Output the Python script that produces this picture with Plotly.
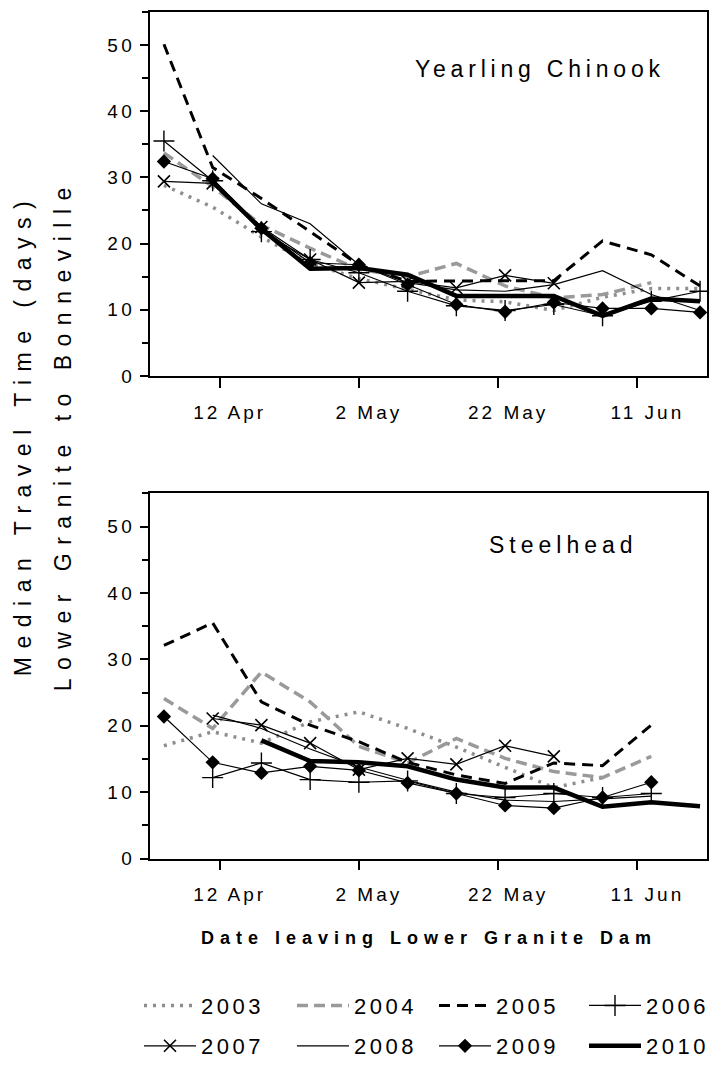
import plotly.graph_objects as go

# Weekly release dates (common calendar year used for overlaying years)
release_dates = ["2010-04-04", "2010-04-11", "2010-04-18", "2010-04-25",
                 "2010-05-02", "2010-05-09", "2010-05-16", "2010-05-23",
                 "2010-05-30", "2010-06-06", "2010-06-13", "2010-06-20"]

years = [2003, 2004, 2005, 2006, 2007, 2008, 2009, 2010]

# Median travel time (days), Lower Granite to Bonneville — yearling Chinook
chinook_2003 = [28.8, 25.5, 21.0, 17.0, 14.7, 13.1, 11.5, 11.2, 9.9, 11.9, 13.2, 13.2]
chinook_2004 = [33.7, 28.6, 22.8, 19.3, 16.1, 15.0, 17.0, 13.6, 11.8, 12.3, 14.1, None]
chinook_2005 = [50.1, 31.5, 26.8, 21.8, 16.8, 14.3, 14.4, 14.4, 14.4, 20.4, 18.3, 13.6]
chinook_2006 = [35.5, 29.5, 21.8, 17.6, 15.6, 12.8, 10.6, 9.9, 10.8, 9.1, 11.3, 12.8]
chinook_2007 = [29.4, 29.1, 22.5, 17.6, 14.1, 14.3, 13.3, 15.2, 14.0, None, None, None]
chinook_2008 = [None, 33.3, 26.0, 23.0, 16.8, 14.1, 13.0, 12.8, 13.8, 15.9, 12.3, 9.9]
chinook_2009 = [32.4, 29.8, 22.3, 17.1, 16.8, 13.8, 10.8, 9.7, 11.1, 10.2, 10.2, 9.6]
chinook_2010 = [None, 29.3, 22.2, 16.2, 16.3, 15.3, 12.1, 12.1, 12.1, 9.1, 11.7, 11.3]

# Median travel time (days), Lower Granite to Bonneville — steelhead
steelhead_2003 = [17.0, 19.1, 17.4, 20.6, 22.1, 19.6, 16.8, 13.8, 10.7, 12.2, None, None]
steelhead_2004 = [24.1, 19.6, 28.1, 23.6, 16.9, 14.4, 18.1, 15.1, 13.1, 12.2, 15.4, None]
steelhead_2005 = [32.1, 35.5, 23.6, 20.1, 17.6, 14.5, 12.6, 11.3, 14.4, 14.0, 20.1, None]
steelhead_2006 = [None, 12.2, 14.4, 11.9, 11.5, 11.7, 9.8, 9.2, 9.8, 9.2, 9.8, None]
steelhead_2007 = [None, 21.1, 20.1, 17.4, 13.4, 15.1, 14.2, 17.0, 15.4, None, None, None]
steelhead_2008 = [None, 21.6, 19.6, 16.5, 13.8, 11.8, 10.0, 8.8, 8.6, 9.0, 9.4, None]
steelhead_2009 = [21.4, 14.5, 12.9, 13.9, 13.3, 11.4, 9.8, 8.0, 7.6, 9.2, 11.5, None]
steelhead_2010 = [None, None, 17.8, 14.7, 14.5, 13.9, 11.9, 10.7, 10.7, 7.8, 8.5, 7.9]

chinook = [chinook_2003, chinook_2004, chinook_2005, chinook_2006,
           chinook_2007, chinook_2008, chinook_2009, chinook_2010]
steelhead = [steelhead_2003, steelhead_2004, steelhead_2005, steelhead_2006,
             steelhead_2007, steelhead_2008, steelhead_2009, steelhead_2010]

tick_dates = ["2010-04-12", "2010-05-02", "2010-05-22", "2010-06-11"]
tick_labels = ["12 Apr", "2 May", "22 May", "11 Jun"]
y_ticks = [0, 10, 20, 30, 40, 50]

FONT = "Liberation Sans, Arial, sans-serif"


def spaced(text, px):
    return f'<span style="letter-spacing:{px}px">{text}</span>'


# Line / marker style for each year
styles = {
    2003: dict(mode="lines", line=dict(color="#8e8e8e", width=3.5, dash="3px,6px")),
    2004: dict(mode="lines", line=dict(color="#9a9a9a", width=3.5, dash="11px,6px")),
    2005: dict(mode="lines", line=dict(color="black", width=3, dash="11px,7px")),
    2006: dict(mode="lines+markers", line=dict(color="black", width=1.2),
               marker=dict(symbol="cross-thin", size=15, line=dict(color="black", width=1.4))),
    2007: dict(mode="lines+markers", line=dict(color="black", width=1.2),
               marker=dict(symbol="x-thin", size=12, line=dict(color="black", width=1.6))),
    2008: dict(mode="lines", line=dict(color="black", width=1.2)),
    2009: dict(mode="lines+markers", line=dict(color="black", width=1.2),
               marker=dict(symbol="diamond", size=11, color="black")),
    2010: dict(mode="lines", line=dict(color="black", width=4.5)),
}

W, H = 715, 1067

# Legend key placement: two rows of four, one small legend per year
legend_cols = [139, 292, 434, 584]
legend_rows = [1019, 1060]

fig = go.Figure()

for i, yr in enumerate(years):
    legend_id = "legend" if i == 0 else f"legend{i + 1}"
    fig.add_trace(go.Scatter(x=release_dates, y=chinook[i], name=spaced(str(yr), 3.5),
                             xaxis="x", yaxis="y", legend=legend_id,
                             connectgaps=False, **styles[yr]))
for i, yr in enumerate(years):
    fig.add_trace(go.Scatter(x=release_dates, y=steelhead[i], name=str(yr),
                             xaxis="x2", yaxis="y2", showlegend=False,
                             connectgaps=False, **styles[yr]))

x_dom = [150 / W, 707 / W]
top_dom = [1 - 381 / H, 1 - 12 / H]
bot_dom = [1 - 870 / H, 1 - 500 / H]
x_range = ["2010-04-02", "2010-06-21"]

tick_font = dict(family=FONT, size=19, color="black")

xaxis_common = dict(type="date", range=x_range, domain=x_dom,
                    tickmode="array", tickvals=tick_dates,
                    ticktext=[spaced(t, 3) for t in tick_labels],
                    ticks="outside", ticklen=10, tickwidth=1.5, tickcolor="black",
                    showline=True, linewidth=1.5, linecolor="black", mirror=True,
                    showgrid=False, zeroline=False, tickfont=tick_font,
                    ticklabelshift=10, ticklabelstandoff=8)
# Overlay axes carry the inner half of the crossing date ticks
xaxis_inner = dict(type="date", range=x_range, domain=x_dom,
                   tickmode="array", tickvals=tick_dates,
                   ticks="inside", ticklen=10, tickwidth=1.5, tickcolor="black",
                   showticklabels=False, showline=False, showgrid=False, zeroline=False)
yaxis_common = dict(range=[0, 55], tickmode="array", tickvals=y_ticks,
                    ticktext=[spaced(str(v), 3.5) for v in y_ticks],
                    ticks="outside", ticklen=8, tickwidth=1.5, tickcolor="black",
                    minor=dict(dtick=5, tick0=0, ticks="outside", ticklen=6,
                               tickwidth=1.5, tickcolor="black"),
                    showline=True, linewidth=1.5, linecolor="black", mirror=True,
                    showgrid=False, zeroline=False, tickfont=tick_font,
                    ticklabelstandoff=1)

layout_legends = {}
for i, yr in enumerate(years):
    key = "legend" if i == 0 else f"legend{i + 1}"
    layout_legends[key] = dict(
        orientation="h", x=legend_cols[i % 4] / W, y=1 - legend_rows[i // 4] / H,
        xanchor="left", yanchor="middle", itemwidth=52,
        font=dict(family=FONT, size=22, color="black"),
        bgcolor="rgba(0,0,0,0)", borderwidth=0)

fig.update_layout(
    width=W, height=H,
    margin=dict(l=0, r=0, t=0, b=0),
    paper_bgcolor="white", plot_bgcolor="white",
    font=dict(family=FONT, color="black"),
    xaxis=dict(anchor="y", **xaxis_common),
    yaxis=dict(anchor="x", domain=top_dom, **yaxis_common),
    xaxis2=dict(anchor="y2", **xaxis_common),
    yaxis2=dict(anchor="x2", domain=bot_dom, **yaxis_common),
    xaxis3=dict(anchor="y", overlaying="x", **xaxis_inner),
    xaxis4=dict(anchor="y2", overlaying="x2", **xaxis_inner),
    showlegend=True,
    **layout_legends,
)

annotations = [
    dict(text=spaced("Yearling Chinook", 4.8), x=540 / W, y=1 - 70 / H,
         font=dict(family=FONT, size=23, color="black")),
    dict(text=spaced("Steelhead", 5), x=563 / W, y=1 - 552 / H,
         font=dict(family=FONT, size=23, color="black")),
    dict(text=spaced("Median Travel Time (days)", 8.5), x=23 / W, y=1 - 441 / H,
         textangle=-90, font=dict(family=FONT, size=23, color="black")),
    dict(text=spaced("Lower Granite to Bonneville", 8.5), x=63 / W, y=1 - 441 / H,
         textangle=-90, font=dict(family=FONT, size=23, color="black")),
    dict(text=spaced("<b>Date leaving Lower Granite Dam</b>", 6), x=429 / W, y=1 - 950 / H,
         font=dict(family=FONT, size=18, color="black")),
]
for a in annotations:
    a.update(xref="paper", yref="paper", xanchor="center", yanchor="middle", showarrow=False)
fig.update_layout(annotations=annotations)

fig.write_html("out.html")
